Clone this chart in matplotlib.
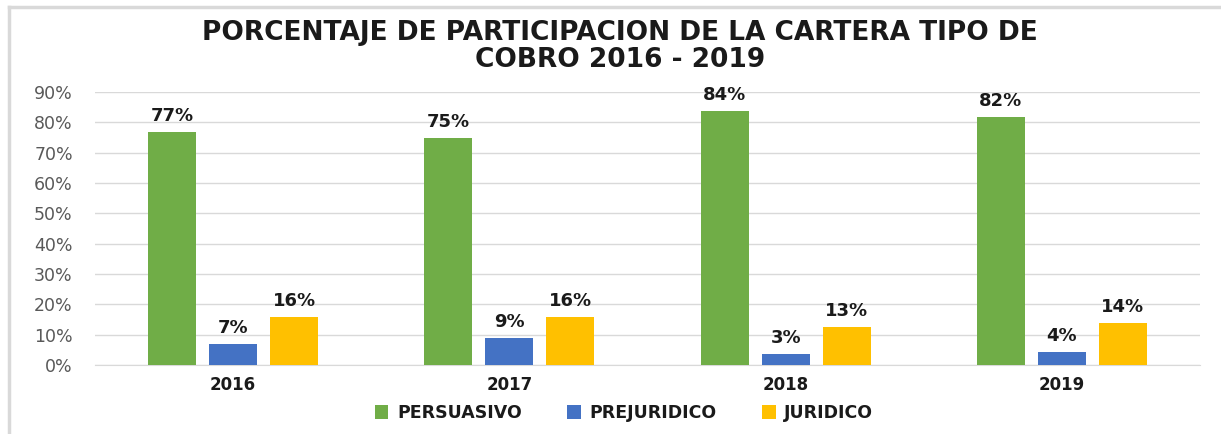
import matplotlib
matplotlib.use('Agg')
import matplotlib.pyplot as plt
from matplotlib.lines import Line2D
from matplotlib.ticker import PercentFormatter
import numpy as np

years = ['2016', '2017', '2018', '2019']
series = ['PERSUASIVO', 'PREJURIDICO', 'JURIDICO']
persuasivo = [0.768, 0.748, 0.837, 0.818]
prejuridico = [0.069, 0.089, 0.036, 0.043]
juridico = [0.158, 0.158, 0.125, 0.138]
labels_p = ['77%', '75%', '84%', '82%']
labels_pr = ['7%', '9%', '3%', '4%']
labels_j = ['16%', '16%', '13%', '14%']
colors = ['#70AD47', '#4472C4', '#FFC000']

fig = plt.figure(figsize=(12.21, 4.34), dpi=100)
ax = fig.add_axes([95/1221, 69/434, 1105/1221, 273/434])

# faint frame: left and top edges only
fx, fy = 9/1221, 1 - 7/434
fig.lines.append(Line2D([fx, fx], [0, fy], transform=fig.transFigure, color='#D9D9D9', lw=2.5))
fig.lines.append(Line2D([fx, 1], [fy, fy], transform=fig.transFigure, color='#D9D9D9', lw=2.5))

x = np.arange(len(years))
w = 0.174
step = 0.221
data = [persuasivo, prejuridico, juridico]
labs = [labels_p, labels_pr, labels_j]
for i, (vals, name, c, lb) in enumerate(zip(data, series, colors, labs)):
    bars = ax.bar(x + (i - 1) * step, vals, w, color=c, label=name, zorder=3)
    ax.bar_label(bars, labels=lb, padding=5, fontsize=13, fontweight='bold', color='#1a1a1a')

ax.set_xlim(-0.5, 3.5)
ax.set_ylim(0, 0.9)
ax.set_yticks(np.arange(0, 0.91, 0.1))
ax.yaxis.set_major_formatter(PercentFormatter(1.0, decimals=0))
ax.grid(axis='y', color='#D9D9D9', linewidth=1, zorder=0)
for s in ['top', 'right', 'left']:
    ax.spines[s].set_visible(False)
ax.spines['bottom'].set_color('#D9D9D9')
ax.tick_params(axis='y', length=0, labelsize=12.5, labelcolor='#595959', pad=16)
ax.tick_params(axis='x', length=0, labelsize=12, pad=8)
ax.set_xticks(x)
ax.set_xticklabels(years, fontweight='bold', color='#1a1a1a')

fig.text(620/1221, 1 - 33/434, 'PORCENTAJE DE PARTICIPACION DE LA CARTERA TIPO DE',
         ha='center', va='center', fontsize=19, fontweight='bold', color='#1a1a1a')
fig.text(620/1221, 1 - 60/434, 'COBRO 2016 - 2019',
         ha='center', va='center', fontsize=19, fontweight='bold', color='#1a1a1a')

leg = fig.legend(loc='center', bbox_to_anchor=(624/1221, 1 - 413/434), ncol=3, frameon=False,
                 prop={'weight': 'bold', 'size': 12.5}, handlelength=0.8, handleheight=0.8,
                 columnspacing=2.6, handletextpad=0.5)
for t in leg.get_texts():
    t.set_color('#1a1a1a')

plt.savefig('out.png', dpi=100)
